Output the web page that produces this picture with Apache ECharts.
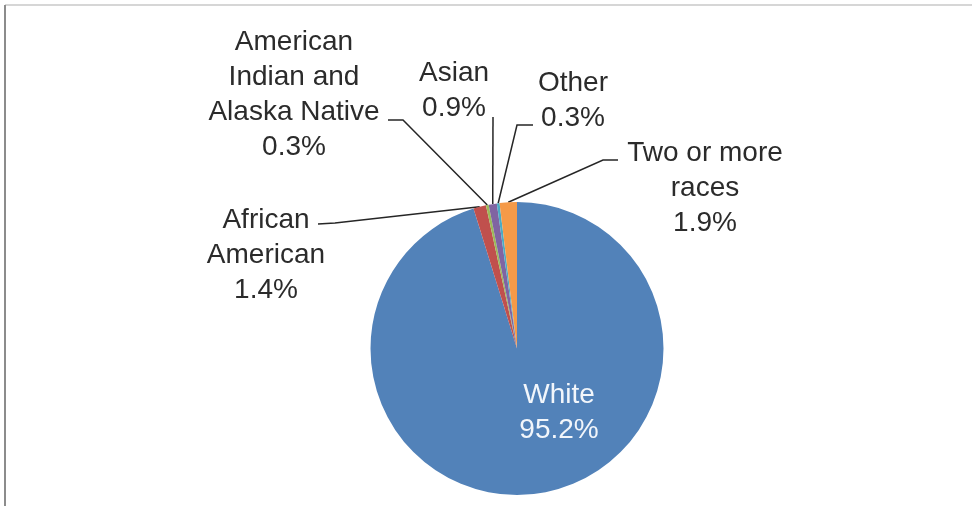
<!DOCTYPE html>
<html>
<head>
<meta charset="utf-8">
<script src="https://cdn.jsdelivr.net/npm/echarts@6/dist/echarts.min.js"></script>
<style>
html,body{margin:0;padding:0;background:#fff;}
#chart{width:972px;height:506px;}
</style>
</head>
<body>
<div id="chart"></div>
<script>
// ---- data ----
const categories = ['White', 'African American', 'American Indian and Alaska Native', 'Asian', 'Other', 'Two or more races'];
const shares = [95.2, 1.4, 0.3, 0.9, 0.3, 1.9];
const labelText = ['White', 'African\nAmerican', 'American\nIndian and\nAlaska Native', 'Asian', 'Other', 'Two or more\nraces'];

// ---- styles / layout ----
const colors = ['#5282b9', '#c0504d', '#9bbb59', '#8064a2', '#4bacc6', '#f59a48'];
const labelPlace = [
  {x: 559, y: 378, inside: true},
  {x: 266, y: 203, elbow: [335, 223], end: [318, 224]},
  {x: 294, y: 25, elbow: [403, 120], end: [388, 120]},
  {x: 454, y: 56, elbow: [493, 117], end: [493, 117]},
  {x: 573, y: 66, elbow: [517, 125], end: [533, 125]},
  {x: 705, y: 136, elbow: [603, 160], end: [618, 160]}
];

const chart = echarts.init(document.getElementById('chart'), null, {renderer: 'canvas'});

const data = categories.map((name, i) => {
  const item = {name: name, value: shares[i], itemStyle: {color: colors[i]}};
  if (labelPlace[i].inside) {
    item.label = {position: 'inside', color: '#f2f6fb'};
    item.labelLine = {show: false};
  }
  return item;
});

chart.setOption({
  animation: false,
  backgroundColor: '#ffffff',
  graphic: [
    {type: 'line', shape: {x1: 5, y1: 5, x2: 972, y2: 5}, style: {stroke: '#d6d6d6', lineWidth: 2}, silent: true},
    {type: 'line', shape: {x1: 5, y1: 5, x2: 5, y2: 506}, style: {stroke: '#8c8c8c', lineWidth: 2}, silent: true}
  ],
  series: [{
    type: 'pie',
    center: [517, 348.5],
    radius: 146.5,
    startAngle: 90,
    clockwise: true,
    avoidLabelOverlap: false,
    itemStyle: {borderWidth: 0},
    label: {
      show: true,
      position: 'outside',
      fontFamily: 'Liberation Sans, Arial, sans-serif',
      fontSize: 28,
      lineHeight: 35,
      color: '#2b2b2b',
      formatter: p => labelText[p.dataIndex] + '\n' + shares[p.dataIndex].toFixed(1) + '%'
    },
    labelLine: {
      show: true,
      smooth: false,
      length: 10,
      length2: 10,
      lineStyle: {color: '#262626', width: 1.5}
    },
    labelLayout: function (params) {
      const p = labelPlace[params.dataIndex];
      const out = {x: p.x, y: p.y, align: 'center', verticalAlign: 'top'};
      if (!p.inside && params.labelLinePoints && params.labelLinePoints.length) {
        const s = params.labelLinePoints[0];
        out.labelLinePoints = [[s[0], s[1]], p.elbow.slice(), p.end.slice()];
      }
      return out;
    },
    emphasis: {disabled: true},
    data: data
  }]
});
</script>
</body>
</html>
